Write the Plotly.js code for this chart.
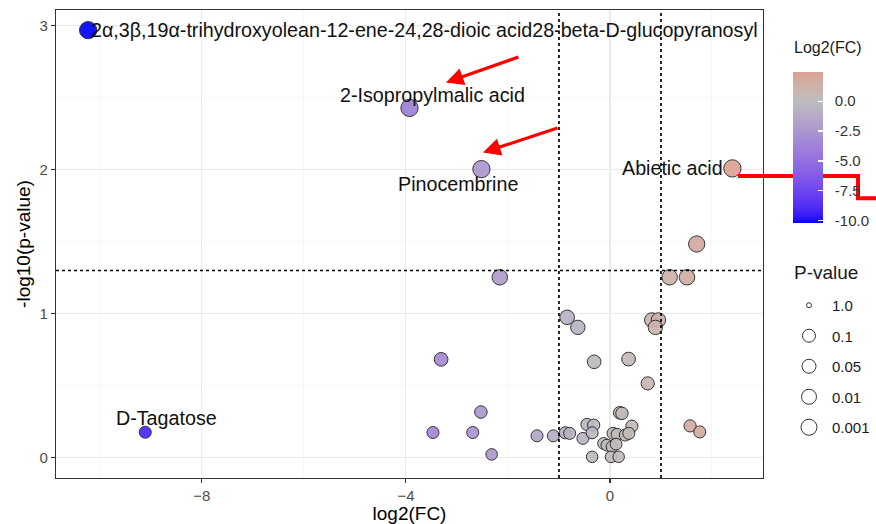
<!DOCTYPE html>
<html><head><meta charset="utf-8">
<script src="https://cdn.plot.ly/plotly-3.0.1.min.js"></script>
<style>html,body{margin:0;padding:0;background:#fff}#chart{width:876px;height:524px}</style>
</head><body><div id="chart"></div>
<script>
// ---------------- DATA ----------------
const log2FC = [-10.23, -3.93, -2.52, 2.40, -9.11, 1.70, -2.16, 1.17, 1.51, -0.84, -0.63, 0.82, 0.95, 0.89,
  -3.31, -0.31, 0.365, 0.74, -2.53, -3.47, -2.69, -2.32, -1.43, -1.11, -0.876, -0.79, -0.45, -0.32, -0.53,
  -0.35, 0.19, 0.235, 0.06, 0.14, 0.43, 0.30, 0.37, -0.125, -0.06, 0.04, 0.12, -0.35, 0.02, 0.17, 1.57, 1.76];
const negLog10P = [2.97, 2.43, 2.005, 2.01, 0.178, 1.485, 1.254, 1.254, 1.254, 0.976, 0.906, 0.957, 0.957, 0.906,
  0.684, 0.667, 0.686, 0.517, 0.318, 0.176, 0.176, 0.024, 0.153, 0.153, 0.174, 0.17, 0.232, 0.227, 0.135,
  0.174, 0.313, 0.309, 0.17, 0.163, 0.22, 0.158, 0.17, 0.10, 0.088, 0.077, 0.095, 0.007, 0.007, 0.007, 0.222, 0.18];
const labelIndex = [0, 1, 2, 3, 4];
const labelText = ['2α,3β,19α-trihydroxyolean-12-ene-24,28-dioic acid28-beta-D-glucopyranosyl',
  '2-Isopropylmalic acid', 'Pinocembrine', 'Abietic acid', 'D-Tagatose'];
const pLegendLevels = ['1.0', '0.1', '0.05', '0.01', '0.001'];
const colorbarTicks = [-10, -7.5, -5, -2.5, 0];
const colorbarTickText = ['-10.0', '-7.5', '-5.0', '-2.5', '0.0'];
const fcThreshold = 1;
const pThreshold = 0.05;

// ---------------- STYLE ----------------
const FONT = 'Liberation Sans, Arial, sans-serif';
const W = 876, H = 524, ML = 56, MR = 113, MT = 10, MB = 46;
const PW = W - ML - MR, PH = H - MT - MB;
const px2paperX = px => (px - ML) / PW;
const px2paperY = py => (H - MB - py) / PH;
const labelStyle = [ // per label: anchor & pixel shifts
  {xanchor: 'left', xshift: 1, yshift: 0},
  {xanchor: 'center', xshift: 23, yshift: 13},
  {xanchor: 'center', xshift: -23, yshift: -15},
  {xanchor: 'right', xshift: -7, yshift: 0},
  {xanchor: 'center', xshift: 21, yshift: 14}
];
const legendSizes = [5, 13, 14, 15, 16];
const CB = {left: 793, top: 72.7, thick: 30, len: 151, yfix: 8.4};

// Lab interpolation (like ggplot scale_colour_gradient2)
function s2l(c){c/=255;return c<=0.04045?c/12.92:Math.pow((c+0.055)/1.055,2.4);}
function l2s(c){c=c<=0.0031308?12.92*c:1.055*Math.pow(c,1/2.4)-0.055;return Math.round(Math.max(0,Math.min(1,c))*255);}
function hex2lab(h){const r=s2l(parseInt(h.substr(1,2),16)),g=s2l(parseInt(h.substr(3,2),16)),b=s2l(parseInt(h.substr(5,2),16));
  const X=(0.4124*r+0.3576*g+0.1805*b)/0.95047,Y=0.2126*r+0.7152*g+0.0722*b,Z=(0.0193*r+0.1192*g+0.9505*b)/1.08883;
  const f=t=>t>0.008856?Math.cbrt(t):7.787*t+16/116;const fx=f(X),fy=f(Y),fz=f(Z);
  return [116*fy-16,500*(fx-fy),200*(fy-fz)];}
function lab2rgb(L){const fy=(L[0]+16)/116,fx=fy+L[1]/500,fz=fy-L[2]/200;
  const fi=t=>t*t*t>0.008856?t*t*t:(t-16/116)/7.787;const X=fi(fx)*0.95047,Y=fi(fy),Z=fi(fz)*1.08883;
  const r=3.2406*X-1.5372*Y-0.4986*Z,g=-0.9689*X+1.8758*Y+0.0415*Z,b=0.0557*X-0.2040*Y+1.0570*Z;
  return 'rgb('+l2s(r)+','+l2s(g)+','+l2s(b)+')';}
const LOW=hex2lab('#0000FF'),MID=hex2lab('#BEBEBE'),HIGH=hex2lab('#FF0000');
function mix(a,b,t){return [a[0]+(b[0]-a[0])*t,a[1]+(b[1]-a[1])*t,a[2]+(b[2]-a[2])*t];}
const cmin=Math.min(...log2FC),cmax=Math.max(...log2FC),lim=Math.max(Math.abs(cmin),Math.abs(cmax));
const colorscale=[];
for(let i=0;i<=30;i++){const s=i/30,v=cmin+s*(cmax-cmin),t=0.5+v/(2*lim);
  const lab=t<0.5?mix(LOW,MID,t/0.5):mix(MID,HIGH,(t-0.5)/0.5);colorscale.push([s,lab2rgb(lab)]);}

function markerSize(y){return Math.min(12.5+3.2*y,18.3)-1;}

const traces=[{
  type:'scatter',mode:'markers',x:log2FC,y:negLog10P,showlegend:false,hoverinfo:'x+y',
  marker:{size:negLog10P.map(markerSize),color:log2FC,colorscale:colorscale,cmin:cmin,cmax:cmax,opacity:0.92,
    line:{color:'#262626',width:1},
    showscale:true,
    colorbar:{thickness:CB.thick,thicknessmode:'pixels',len:CB.len,lenmode:'pixels',
      xref:'container',x:CB.left/W,xanchor:'left',yref:'container',y:1-(CB.top+CB.yfix)/H,yanchor:'top',
      xpad:0,ypad:0,outlinewidth:0,ticks:'inside',ticklen:5,tickwidth:1.2,tickcolor:'#FFFFFF',
      tickvals:colorbarTicks,ticktext:colorbarTickText.map(t=>'\u00A0\u00A0'+t),
      tickfont:{family:FONT,size:15,color:'#333'}}}
}];
pLegendLevels.forEach((lv,i)=>{traces.push({type:'scatter',mode:'markers',x:[null],y:[null],name:lv,
  legendgroup:'g'+i,showlegend:true,hoverinfo:'skip',
  marker:{size:legendSizes[i],color:'rgba(255,255,255,0)',line:{color:'#333',width:1}}});});

const annotations=labelIndex.map((idx,k)=>({x:log2FC[idx],y:negLog10P[idx],xref:'x',yref:'y',text:labelText[k],
  showarrow:false,xanchor:labelStyle[k].xanchor,yanchor:'middle',xshift:labelStyle[k].xshift,yshift:labelStyle[k].yshift,
  font:{family:FONT,size:19.7,color:'#111'}}));
// legend titles
annotations.push({xref:'paper',yref:'paper',x:px2paperX(792),y:px2paperY(47),xanchor:'left',yanchor:'middle',
  text:'Log2(FC)',showarrow:false,font:{family:FONT,size:16,color:'#1a1a1a'}});
annotations.push({xref:'paper',yref:'paper',x:px2paperX(792),y:px2paperY(272),xanchor:'left',yanchor:'middle',
  text:'P-value',showarrow:false,font:{family:FONT,size:19,color:'#1a1a1a'}});
// red arrows (decorations)
annotations.push({x:-3.216,y:2.606,xref:'x',yref:'y',ax:74,ay:-26,text:'',showarrow:true,arrowhead:2,arrowsize:1.1,arrowwidth:3.2,arrowcolor:'#FF0000'});
annotations.push({x:-2.49,y:2.12,xref:'x',yref:'y',ax:76,ay:-25,text:'',showarrow:true,arrowhead:2,arrowsize:1.1,arrowwidth:3.2,arrowcolor:'#FF0000'});

const thrY=-Math.log10(pThreshold);
const dotLine={color:'#000',width:1.7,dash:'dot'};
const shapes=[
  {type:'line',xref:'paper',yref:'y',x0:0,x1:1,y0:thrY,y1:thrY,line:dotLine,layer:'above'},
  {type:'line',xref:'x',yref:'paper',x0:-fcThreshold,x1:-fcThreshold,y0:0,y1:1,line:dotLine,layer:'above'},
  {type:'line',xref:'x',yref:'paper',x0:fcThreshold,x1:fcThreshold,y0:0,y1:1,line:dotLine,layer:'above'},
  {type:'path',xref:'paper',yref:'paper',path:'M 0.9646 0.6451 L 1.1344 0.6451 L 1.1344 0.598 L 1.17 0.598',
   line:{color:'#FF0000',width:4},layer:'above'}
];

const axisCommon={showgrid:true,gridcolor:'#EBEBEB',gridwidth:1.1,zeroline:false,ticks:'outside',ticklen:4,tickwidth:1.1,
  tickcolor:'#333',tickfont:{family:FONT,size:15,color:'#4D4D4D'},showline:true,mirror:true,linecolor:'#333',linewidth:1.1};

const layout={
  width:W,height:H,margin:{l:ML,r:MR,t:MT,b:MB},paper_bgcolor:'#fff',plot_bgcolor:'#fff',
  font:{family:FONT},
  xaxis:Object.assign({},axisCommon,{range:[-10.86,3.0],tick0:0,dtick:4,
    minor:{tick0:0,dtick:2,showgrid:true,gridcolor:'#F2F2F2',gridwidth:0.6,ticks:''},
    title:{text:'log2(FC)',font:{family:FONT,size:19,color:'#000'},standoff:4}}),
  yaxis:Object.assign({},axisCommon,{range:[-0.14,3.11],tick0:0,dtick:1,
    minor:{tick0:0,dtick:0.5,showgrid:true,gridcolor:'#F2F2F2',gridwidth:0.6,ticks:''},
    title:{text:'-log10(p-value)',font:{family:FONT,size:19,color:'#000'},standoff:3}}),
  legend:{xref:'container',yref:'container',
    x:786/W,xanchor:'left',y:1-289/H,yanchor:'top',font:{family:FONT,size:15,color:'#1a1a1a'},
    itemsizing:'trace',itemwidth:36,tracegroupgap:8,bgcolor:'rgba(0,0,0,0)'},
  annotations:annotations,shapes:shapes,showlegend:true
};
Plotly.newPlot('chart',traces,layout,{displayModeBar:false,staticPlot:true});
</script></body></html>
